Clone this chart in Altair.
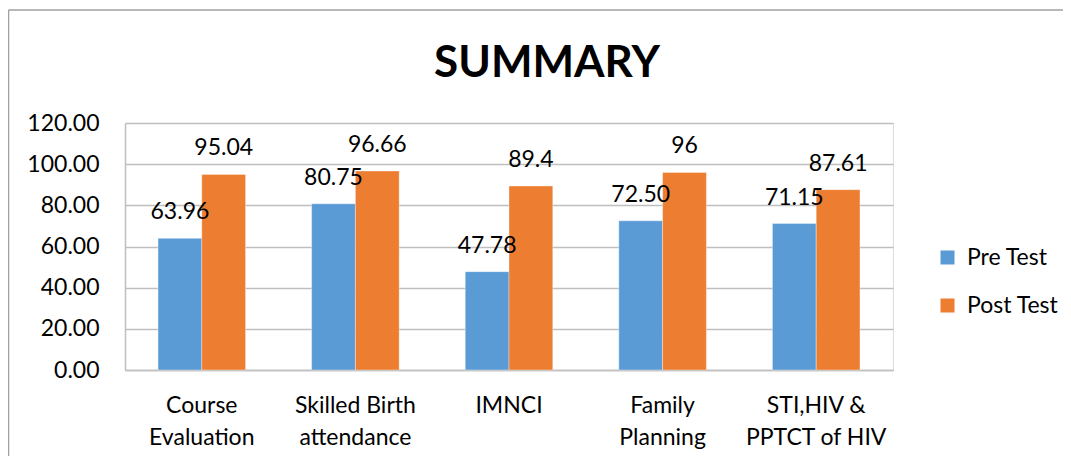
import altair as alt
import pandas as pd

categories = ["Course\nEvaluation", "Skilled Birth\nattendance", "IMNCI",
              "Family\nPlanning", "STI,HIV &\nPPTCT of HIV"]
series = ["Pre Test", "Post Test"]
pre_test = [63.96, 80.75, 47.78, 72.50, 71.15]
post_test = [95.04, 96.66, 89.4, 96, 87.61]
colors = ["#5B9BD5", "#ED7D31"]
y_ticks = [0, 20, 40, 60, 80, 100, 120]

rows = []
for c, p, q in zip(categories, pre_test, post_test):
    rows.append({"category": c, "series": "Pre Test", "value": p, "label": f"{p:.2f}"})
    rows.append({"category": c, "series": "Post Test", "value": q, "label": f"{q:g}"})
df = pd.DataFrame(rows)

W, H = 768, 247
PAD = {"left": 117, "top": 115, "right": 170, "bottom": 86}
FONT = "Lato"
GRID = "#bfbfbf"

base = alt.Chart(df).encode(
    x=alt.X("category:N", sort=categories, title=None,
            scale=alt.Scale(paddingInner=0.43, paddingOuter=0.215),
            axis=alt.Axis(labelAngle=0, ticks=False, domainColor=GRID, domainWidth=1.5,
                          labelExpr="split(datum.label, '\\n')", labelLineHeight=32,
                          labelPadding=24, labelFontSize=23, labelFont=FONT,
                          labelColor="#000000", grid=False)),
    xOffset=alt.XOffset("series:N", sort=series,
                        scale=alt.Scale(paddingInner=0, paddingOuter=0)),
)

bars = base.mark_bar(stroke="white", strokeWidth=0.6, strokeOpacity=0.6).encode(
    y=alt.Y("value:Q", title=None,
            scale=alt.Scale(domain=[0, 120], nice=False),
            axis=alt.Axis(values=y_ticks, format=".2f", ticks=False, labelPadding=26,
                          labelFontSize=23, labelFont=FONT, labelColor="#000000",
                          gridColor=GRID, gridWidth=1.5, domainColor=GRID, domainWidth=1.5)),
    color=alt.Color("series:N", sort=series, title=None,
                    scale=alt.Scale(domain=series, range=colors),
                    legend=alt.Legend(orient="none", legendX=811, legendY=123,
                                      symbolType="square", symbolSize=196,
                                      symbolStrokeWidth=0, labelFont=FONT,
                                      labelFontSize=23, labelColor="#000000",
                                      rowPadding=24, labelOffset=8, padding=0)),
)

labels = base.mark_text(font=FONT, fontSize=23, color="#000000",
                        baseline="middle", dy=-26).encode(
    y=alt.Y("value:Q"),
    text="label:N",
)

border_df = pd.DataFrame({"k": [0]})
left_border = alt.Chart(border_df).mark_rule(color="#a0a0a0", strokeWidth=1.5).encode(
    x=alt.value(-116.5), y=alt.value(-113), y2=alt.value(H + PAD["bottom"]))
top_border = alt.Chart(border_df).mark_rule(color="#a0a0a0", strokeWidth=1.5).encode(
    x=alt.value(-116.5), x2=alt.value(W + PAD["right"]), y=alt.value(-113))

chart = alt.layer(bars, labels, left_border, top_border).properties(
    width=W, height=H,
    title=alt.TitleParams("SUMMARY", font=FONT, fontSize=44, fontWeight="bold",
                          color="#000000", anchor="middle", frame="group", dx=38,
                          offset=-77),
    autosize=alt.AutoSizeParams(type="none"),
    padding=PAD,
).configure_view(strokeWidth=0).configure(background="white")

chart.save("out.html", embed_options={"renderer": "svg", "actions": False})
